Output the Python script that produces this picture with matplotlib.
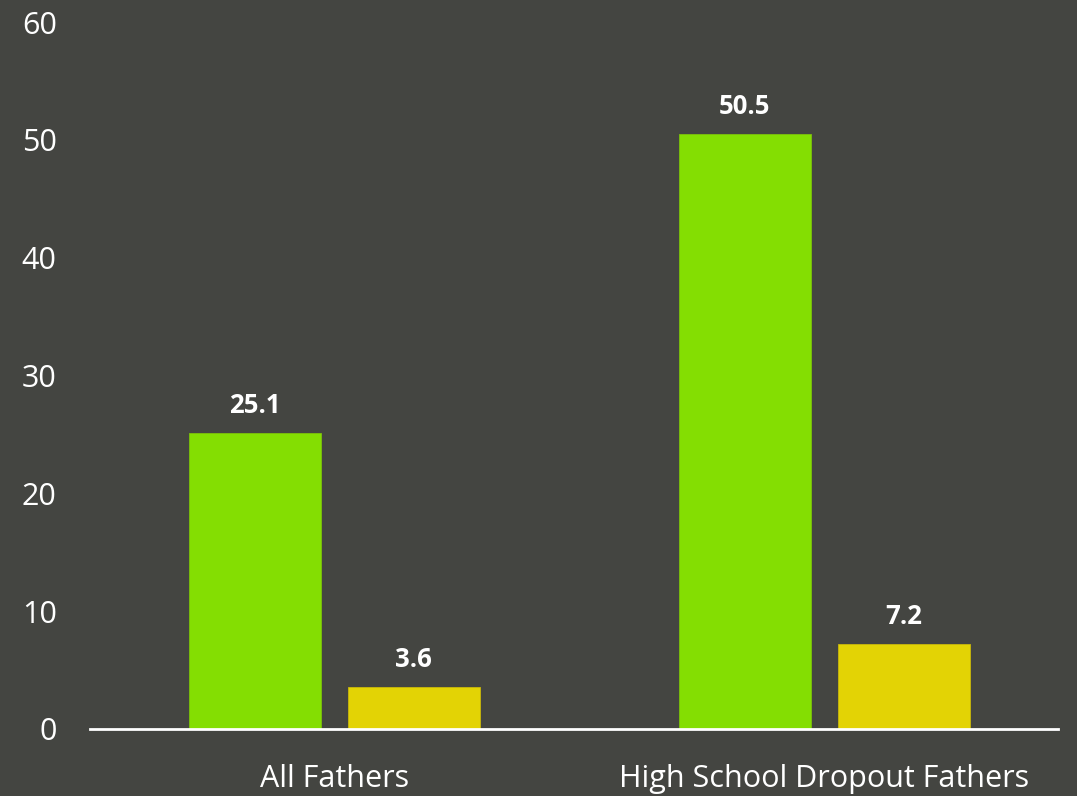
import matplotlib
matplotlib.use("Agg")
import matplotlib.pyplot as plt
import numpy as np

categories = ["All Fathers", "High School Dropout Fathers"]
series_a = [25.1, 50.5]
series_b = [3.6, 7.2]
y_ticks = [0, 10, 20, 30, 40, 50, 60]

BG = "#444541"
GREEN = "#84de02"
YELLOW = "#e3d305"

plt.rcParams["font.family"] = ["Open Sans", "DejaVu Sans"]

W, H = 1077, 796
fig = plt.figure(figsize=(W / 100, H / 100), dpi=100, facecolor=BG)
ax = fig.add_axes([90 / W, 67 / H, (1058 - 90) / W, (729 - 22) / H])
ax.set_facecolor(BG)

x = np.arange(len(categories))
width = 0.27
off = 0.162
bars_a = ax.bar(x - off, series_a, width, color=GREEN, edgecolor="#7cc20a", linewidth=0.6)
bars_b = ax.bar(x + off, series_b, width, color=YELLOW, edgecolor="#c9b80a", linewidth=0.6)

for bars in (bars_a, bars_b):
    for b in bars:
        ax.annotate(f"{b.get_height():.1f}", (b.get_x() + b.get_width() / 2, b.get_height()),
                    xytext=(0, 10), textcoords="offset points", ha="center", va="bottom",
                    color="white", fontsize=18.5, fontweight="bold")

ax.set_xlim(-0.499, 1.477)
ax.set_ylim(0, 60)
ax.set_yticks(y_ticks)
ax.set_xticks(x)
ax.set_xticklabels(categories)
ax.tick_params(axis="both", length=0, colors="white", labelsize=22)
ax.tick_params(axis="y", pad=24)
ax.tick_params(axis="x", pad=25)

for s in ("top", "right", "left"):
    ax.spines[s].set_visible(False)
ax.spines["bottom"].set_color("white")
ax.spines["bottom"].set_linewidth(2)

fig.savefig("out.png", dpi=100, facecolor=BG)
